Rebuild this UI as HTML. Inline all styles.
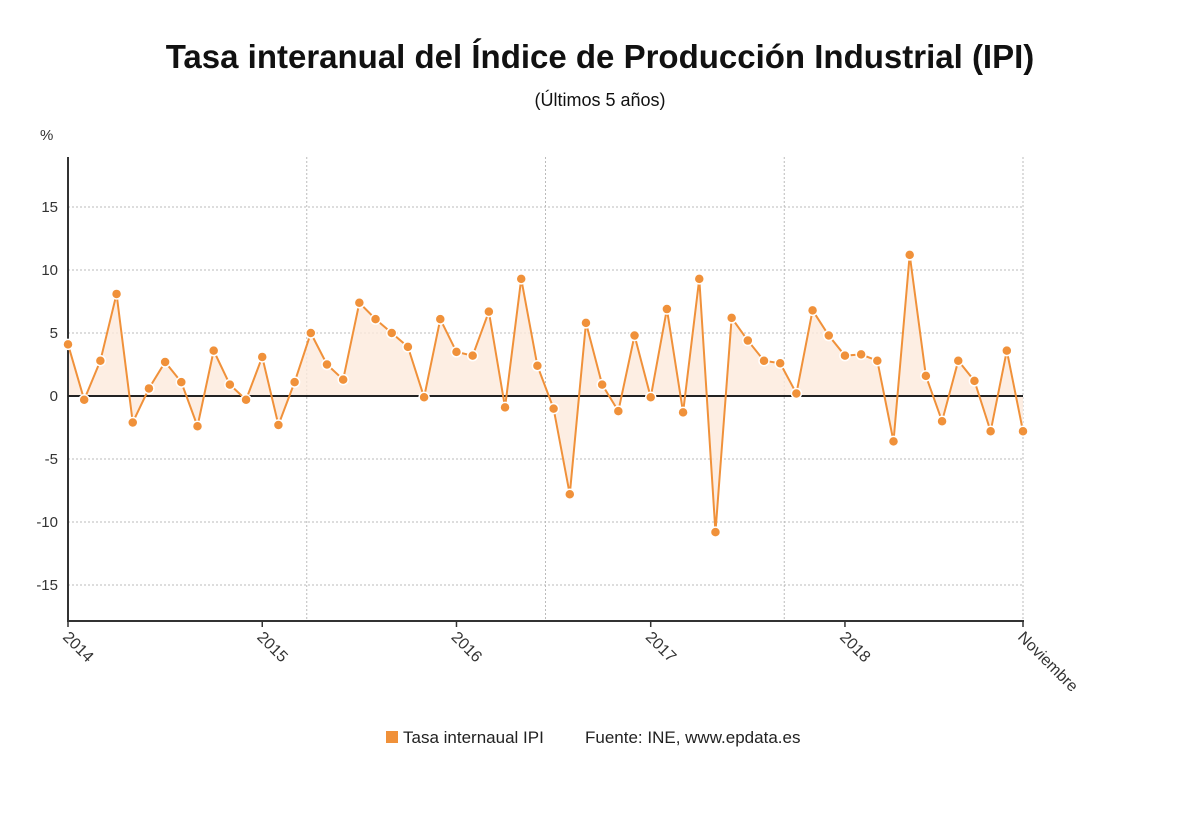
<!DOCTYPE html>
<html><head><meta charset="utf-8"><style>
body{margin:0;background:#fff;width:1200px;height:808px;overflow:hidden;font-family:"Liberation Sans",sans-serif}
</style></head><body>
<svg id="chart" width="1200" height="808" xmlns="http://www.w3.org/2000/svg">
<text x="600" y="68" text-anchor="middle" font-size="33" font-weight="bold" fill="#111">Tasa interanual del Índice de Producción Industrial (IPI)</text>
<text x="600" y="106" text-anchor="middle" font-size="18" fill="#111">(Últimos 5 años)</text>
<text x="40" y="140" font-size="15" fill="#333">%</text>
<g id="grid"></g><g id="area"></g><g id="axes"></g><g id="line"></g><g id="pts"></g><g id="labels"></g>
<g>
<rect x="386" y="731" width="12" height="12" fill="#f0913a"/>
<text x="403" y="743" font-size="17" fill="#222">Tasa internaual IPI</text>
<text x="585" y="743" font-size="17" fill="#222">Fuente: INE, www.epdata.es</text>
</g>
</svg>
<script>
const values=[4.1,-0.3,2.8,8.1,-2.1,0.6,2.7,1.1,-2.4,3.6,0.9,-0.3,3.1,-2.3,1.1,5.0,2.5,1.3,7.4,6.1,5.0,3.9,-0.1,6.1,3.5,3.2,6.7,-0.9,9.3,2.4,-1.0,-7.8,5.8,0.9,-1.2,4.8,-0.1,6.9,-1.3,9.3,-10.8,6.2,4.4,2.8,2.6,0.2,6.8,4.8,3.2,3.3,2.8,-3.6,11.2,1.6,-2.0,2.8,1.2,-2.8,3.6,-2.8];
const yTicks=[15,10,5,0,-5,-10,-15];
const xLabels=["2014","2015","2016","2017","2018","Noviembre"];
const xLabelIdx=[0,12,24,36,48,59];
const vGridIdx=[14.75,29.5,44.25,59];
const NS="http://www.w3.org/2000/svg";
const X=i=>68+i*(1023-68)/59, Y=v=>396-v*12.6;
function mk(p,t,a){const e=document.createElementNS(NS,t);for(const k in a)e.setAttribute(k,a[k]);document.getElementById(p).appendChild(e);return e;}
yTicks.forEach(v=>{
 const l=mk('grid','line',{x1:68,x2:1023,y1:Y(v),y2:Y(v),stroke:'#bbb','stroke-dasharray':'2,2'});
 
 
 const t=mk('labels','text',{x:58,y:Y(v)+5,'text-anchor':'end','font-size':15,fill:'#333'});t.textContent=v;
 
 
});
vGridIdx.forEach(i=>{
 const l=mk('grid','line',{x1:X(i),x2:X(i),y1:157,y2:620,stroke:'#bbb','stroke-dasharray':'2,2'});
 
 
});
let d='M'+X(0)+','+Y(0);values.forEach((v,i)=>d+='L'+X(i)+','+Y(v));d+='L'+X(59)+','+Y(0)+'Z';
const ar=mk('area','path',{d:d,fill:'#fdeadc',opacity:0.8});


const ax=mk('axes','line',{x1:68,x2:68,y1:157,y2:621,stroke:'#333','stroke-width':2});


const bx=mk('axes','line',{x1:67,x2:1024,y1:621,y2:621,stroke:'#333','stroke-width':2});


const zl=mk('axes','line',{x1:68,x2:1023,y1:Y(0),y2:Y(0),stroke:'#222','stroke-width':2});


const ln=mk('line','polyline',{points:values.map((v,i)=>X(i)+','+Y(v)).join(' '),fill:'none',stroke:'#f0913a','stroke-width':2});


values.forEach((v,i)=>{
 const c=mk('pts','circle',{cx:X(i),cy:Y(v),r:5,fill:'#f0913a',stroke:'#fff','stroke-width':1.5});
 
 
});
xLabels.forEach((s,k)=>{
 const x=X(xLabelIdx[k]);
 const tk=mk('axes','line',{x1:x,x2:x,y1:621,y2:627,stroke:'#333','stroke-width':1.5});
 
 
 const t=mk('labels','text',{x:x-6,y:638,'font-size':16,fill:'#333',transform:`rotate(45 ${x-6} 638)`});t.textContent=s;
 
 
});
</script>
</body></html>
